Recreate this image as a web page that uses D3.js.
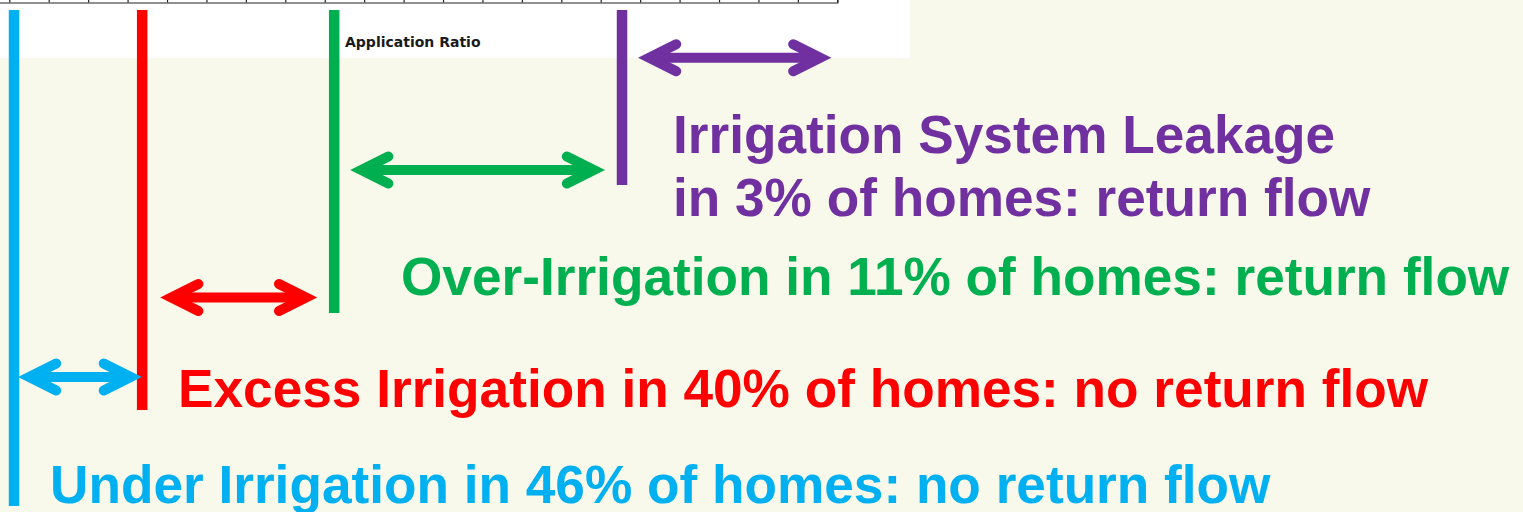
<!DOCTYPE html>
<html>
<head>
<meta charset="utf-8">
<script src="https://cdn.jsdelivr.net/npm/d3@7"></script>
<style>
  html, body { margin: 0; padding: 0; background: #f8f8eb; overflow: hidden; }
  svg { display: block; }
</style>
</head>
<body>
<div id="chart"></div>
<script>
// Application ratio bands: four irrigation categories marked along a
// scanned application-ratio axis, with arrows spanning each band.

const categories  = ["Under Irrigation", "Excess Irrigation", "Over-Irrigation", "Irrigation System Leakage"];
const homeShares  = [46, 40, 11, 3];
const returnFlow  = [false, false, true, true];
// position of each category's marker on the application-ratio axis (tick units)
const ratioMarks  = [0.12, 3.37, 8.24, 15.54];
const leakArrowTo = 20.85;
const axisTicks   = [-1, 0, 1, 2, 3, 4, 5, 6, 7, 8, 9, 10, 11, 12, 13, 14, 15, 16, 17, 18, 19, 20, 21];
const axisTitle   = "Application Ratio";

const COLORS = ["#00b0f0", "#ff0000", "#00b050", "#7030a0"];

// layout per row (pixels): marker bottom, arrow height, label placement
const ROWS = [
  { lineEnd: 506, arrowY: 377,   padL: 4,  padR: 0.3, textX: 50,  textY: [503.3] },
  { lineEnd: 410, arrowY: 297.5, padL: 18, padR: 17,  textX: 178, textY: [406.7] },
  { lineEnd: 313, arrowY: 170,   padL: 16, padR: 17,  textX: 401, textY: [295] },
  { lineEnd: 185, arrowY: 57.7,  padL: 16, padR: 0,   textX: 673, textY: [152.7, 216] },
];

const W = 1523, H = 512;
const FONT = "'Liberation Sans', Arial, sans-serif";

const svg = d3.select("#chart").append("svg")
  .attr("width", W).attr("height", H)
  .attr("viewBox", `0 0 ${W} ${H}`);

svg.append("rect").attr("width", W).attr("height", H).attr("fill", "#f8f8eb");

const x = d3.scaleLinear().domain([-1, 21]).range([9.3 - 39.43, 837.3]);

// White scanned chart strip at the top
svg.append("rect")
  .attr("x", 0).attr("y", 0)
  .attr("width", 910).attr("height", 58)
  .attr("fill", "#ffffff");

const axisG = svg.append("g")
  .attr("transform", "translate(0,2.5)")
  .call(d3.axisTop(x).tickValues(axisTicks).tickSize(5).tickSizeOuter(5).tickFormat(""));
axisG.select(".domain").attr("stroke", "#222").attr("stroke-width", 1.2);
axisG.selectAll(".tick line").attr("stroke", "#222").attr("stroke-width", 1.2);

svg.append("text")
  .attr("x", 345).attr("y", 46.5)
  .attr("fill", "#1a1a1a")
  .attr("font-family", "'DejaVu Sans', Verdana, sans-serif")
  .attr("font-weight", "bold")
  .attr("font-size", "14px")
  .text(axisTitle);

// Vertical markers
categories.forEach((c, i) => {
  svg.append("line")
    .attr("x1", x(ratioMarks[i])).attr("x2", x(ratioMarks[i]))
    .attr("y1", 10).attr("y2", ROWS[i].lineEnd)
    .attr("stroke", COLORS[i])
    .attr("stroke-width", 10.5);
});

// Double headed arrows
const HW = 5, HDX = 27, HDY = 13.5;
const EXT = HW / Math.sin(Math.atan2(HDY, HDX));

function arrow(xa, xb, y, color) {
  const va = xa + EXT, vb = xb - EXT;
  const g = svg.append("g").attr("stroke", color).attr("fill", "none").attr("stroke-width", HW * 2);
  g.append("path")
    .attr("d", `M${va},${y}L${vb},${y}`)
    .attr("stroke-linecap", "butt");
  g.append("path")
    .attr("d", `M${va + HDX},${y - HDY}L${va},${y}L${va + HDX},${y + HDY}` +
               `M${vb - HDX},${y - HDY}L${vb},${y}L${vb - HDX},${y + HDY}`)
    .attr("stroke-linecap", "round")
    .attr("stroke-linejoin", "miter")
    .attr("stroke-miterlimit", 10);
}

categories.forEach((c, i) => {
  const r = ROWS[i];
  const x0 = x(ratioMarks[i]);
  const x1 = i < categories.length - 1 ? x(ratioMarks[i + 1]) : x(leakArrowTo);
  arrow(x0 + r.padL, x1 - r.padR, r.arrowY, COLORS[i]);
});

// Labels
categories.forEach((c, i) => {
  const r = ROWS[i];
  const tail = `in ${homeShares[i]}% of homes: ${returnFlow[i] ? "return flow" : "no return flow"}`;
  const lines = r.textY.length > 1 ? [c, tail] : [`${c} ${tail}`];
  lines.forEach((t, k) => {
    svg.append("text")
      .attr("x", r.textX).attr("y", r.textY[k])
      .attr("fill", COLORS[i])
      .attr("font-family", FONT)
      .attr("font-weight", "bold")
      .attr("font-size", "53.2px")
      .text(t);
  });
});
</script>
</body>
</html>
